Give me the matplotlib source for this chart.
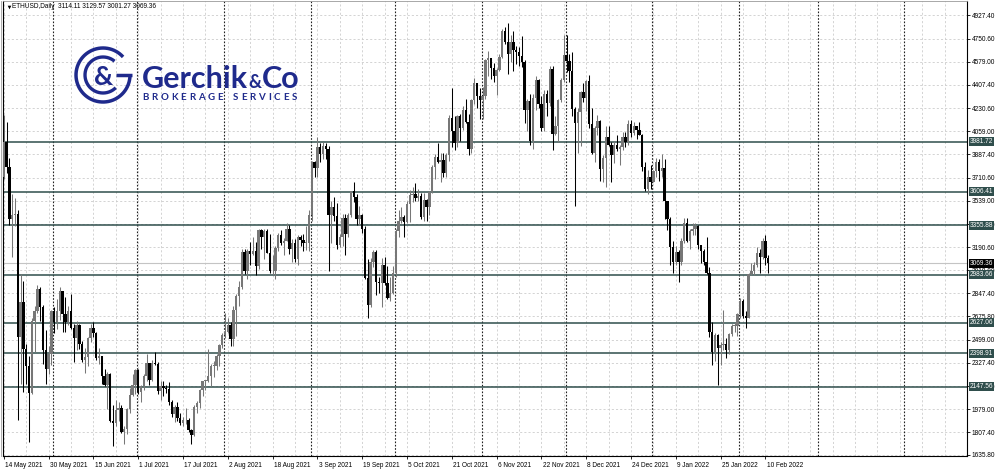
import numpy as np
import pandas as pd
import matplotlib
matplotlib.use("Agg")
import matplotlib.pyplot as plt
import matplotlib.transforms as mtransforms

# ETHUSD daily candles, 14 May 2021 .. 11 Feb 2022
opens = [
    # May
    3720, 3980, 3790, 3400, 3430, 3440, 2520, 2780, 2430, 2300, 2100, 2640, 2710, 2880, 2740, 2420, 2280, 2390,
    # Jun
    2710, 2630, 2710, 2860, 2690, 2630, 2710, 2590, 2515, 2610, 2470, 2350, 2370, 2510, 2590, 2550, 2365, 2375,
    2225, 2160, 2245, 1890, 1875, 1970, 1990, 1810, 1830, 1980, 2085, 2160,
    # Jul
    2275, 2110, 2150, 2225, 2325, 2200, 2325, 2320, 2115, 2150, 2140, 2130, 2030, 1940, 1995, 1915, 1875, 1895,
    1895, 1820, 1785, 1995, 2025, 2125, 2190, 2190, 2225, 2300, 2300, 2380, 2460,
    # Aug
    2535, 2555, 2610, 2505, 2720, 2825, 2890, 3155, 3010, 3165, 3140, 3165, 3050, 3320, 3265, 3310, 3150, 3010,
    3015, 3185, 3285, 3225, 3240, 3325, 3175, 3225, 3100, 3270, 3245, 3225, 3225,
    # Sep
    3435, 3830, 3785, 3940, 3890, 3950, 3925, 3430, 3495, 3425, 3210, 3265, 3410, 3290, 3430, 3610, 3570, 3400,
    3435, 3330, 2960, 2760, 3080, 3155, 2930, 2925, 3060, 2925, 2810, 2850,
    # Oct
    3000, 3310, 3390, 3420, 3380, 3515, 3580, 3590, 3560, 3575, 3415, 3545, 3495, 3605, 3790, 3870, 3830, 3845,
    3745, 3880, 4155, 4060, 3970, 4170, 4085, 4220, 4130, 3930, 4290, 4420, 4325,
    # Nov
    4290, 4325, 4590, 4605, 4530, 4475, 4520, 4615, 4810, 4730, 4635, 4725, 4665, 4650, 4625, 4580, 4215, 4285,
    3990, 4305, 4440, 4265, 4085, 4340, 4270, 4525, 4040, 4095, 4295, 4445,
    # Dec
    4630, 4585, 4510, 4225, 4120, 4200, 4355, 4310, 4435, 4110, 3895, 4080, 4135, 3780, 3860, 4020, 3960, 3880,
    3960, 3925, 3940, 4020, 3980, 4110, 4045, 4100, 4070, 4035, 3795, 3630, 3715,
    # Jan
    3680, 3765, 3830, 3765, 3785, 3535, 3400, 3195, 3080, 3155, 3080, 3240, 3375, 3240, 3310, 3330, 3350, 3210,
    3160, 3080, 2995, 2560, 2405, 2535, 2440, 2460, 2465, 2425, 2545, 2600, 2600,
    # Feb
    2690, 2790, 2680, 2660, 2990, 3015, 3060, 3145, 3120, 3240, 3114.11,
]
highs = [
    4180, 4130, 3860, 3590, 3560, 3470, 2990, 2940, 2470, 2380, 2660, 2750, 2910, 2890, 2760, 2570, 2450, 2720,
    2740, 2800, 2890, 2860, 2820, 2750, 2840, 2620, 2640, 2620, 2490, 2440, 2520, 2620, 2630, 2560, 2440, 2380,
    2280, 2260, 2250, 2010, 2050, 2030, 2010, 1850, 1990, 2140, 2240, 2280,
    2280, 2160, 2240, 2390, 2325, 2350, 2410, 2330, 2190, 2190, 2160, 2180, 2045, 2010, 2030, 1950, 1920, 1990,
    1910, 1830, 2010, 2040, 2130, 2190, 2200, 2430, 2320, 2340, 2390, 2470, 2550,
    2700, 2665, 2630, 2750, 2840, 2940, 3180, 3180, 3180, 3230, 3270, 3230, 3330, 3330, 3330, 3330, 3290, 3130,
    3200, 3300, 3320, 3260, 3370, 3360, 3250, 3250, 3280, 3280, 3290, 3350, 3470,
    3840, 3840, 4020, 3970, 3980, 3970, 3950, 3540, 3570, 3520, 3290, 3440, 3440, 3450, 3610, 3680, 3590, 3500,
    3440, 3350, 3100, 3110, 3170, 3170, 2970, 3110, 3120, 3050, 2970, 3050,
    3330, 3470, 3490, 3430, 3540, 3620, 3640, 3670, 3630, 3600, 3600, 3550, 3610, 3810, 3890, 3970, 3900, 3900,
    3900, 4180, 4380, 4170, 4180, 4190, 4250, 4300, 4190, 4300, 4460, 4420, 4380,
    4390, 4600, 4660, 4610, 4570, 4530, 4640, 4825, 4840, 4870, 4780, 4810, 4700, 4690, 4770, 4590, 4300, 4340,
    4340, 4470, 4450, 4320, 4370, 4370, 4550, 4550, 4170, 4300, 4460, 4780,
    4780, 4640, 4650, 4240, 4230, 4360, 4420, 4440, 4480, 4230, 4100, 4180, 4140, 3880, 4100, 4100, 3980, 3990,
    4030, 3960, 4050, 4050, 4140, 4140, 4130, 4100, 4130, 4040, 3830, 3770, 3810,
    3770, 3860, 3850, 3890, 3850, 3540, 3420, 3240, 3200, 3170, 3260, 3410, 3410, 3330, 3370, 3370, 3360, 3210,
    3180, 3270, 3040, 2630, 2550, 2540, 2480, 2720, 2510, 2550, 2620, 2630, 2700,
    2810, 2800, 2710, 3000, 3070, 3080, 3190, 3180, 3260, 3280, 3129.57,
]
lows = [
    3700, 3750, 3360, 3120, 3350, 1900, 2170, 2110, 2170, 1730, 2090, 2410, 2700, 2640, 2320, 2170, 2240, 2310,
    2550, 2580, 2650, 2560, 2560, 2610, 2580, 2330, 2420, 2430, 2330, 2250, 2300, 2480, 2520, 2350, 2320, 2170,
    2150, 1980, 1880, 1700, 1850, 1890, 1800, 1720, 1790, 1950, 2080, 2090,
    2090, 2030, 2120, 2190, 2160, 2190, 2310, 2090, 2050, 2080, 2100, 2010, 1920, 1880, 1890, 1860, 1850, 1870,
    1810, 1720, 1780, 1950, 1990, 2080, 2120, 2180, 2150, 2220, 2270, 2300, 2440,
    2510, 2550, 2450, 2455, 2530, 2750, 2880, 2990, 2950, 3060, 3130, 2980, 3030, 3180, 3100, 3150, 3000, 2980,
    2950, 3160, 3210, 3130, 3240, 3140, 3080, 3080, 3060, 3200, 3160, 3170, 3160,
    3390, 3720, 3720, 3830, 3850, 3850, 3010, 3220, 3390, 3180, 3190, 3200, 3130, 3270, 3420, 3530, 3360, 3360,
    3300, 2950, 2660, 2740, 3040, 2830, 2850, 2740, 2910, 2800, 2790, 2840,
    2970, 3270, 3370, 3270, 3370, 3380, 3530, 3540, 3540, 3400, 3390, 3390, 3430, 3600, 3700, 3820, 3680, 3720,
    3720, 3840, 3940, 3920, 3940, 3990, 4070, 4120, 3880, 3900, 4260, 4230, 4150,
    4150, 4300, 4470, 4450, 4430, 4330, 4510, 4610, 4710, 4490, 4580, 4510, 4560, 4550, 4540, 4120, 4060, 3960,
    3930, 4220, 4230, 4060, 4060, 4170, 4250, 3920, 4030, 3980, 4280, 4430,
    4500, 4430, 4170, 3500, 3900, 3950, 4280, 4210, 4080, 3890, 3830, 4030, 3690, 3680, 3640, 3950, 3680, 3820,
    3910, 3810, 3920, 3940, 3960, 4020, 4030, 4000, 4030, 3760, 3610, 3590, 3630,
    3680, 3720, 3690, 3720, 3400, 3320, 3060, 3000, 3060, 2930, 3060, 3220, 3230, 3180, 3280, 3280, 3180, 3070,
    3060, 2990, 2520, 2310, 2340, 2160, 2310, 2420, 2360, 2390, 2530, 2560, 2530,
    2660, 2660, 2590, 2660, 2980, 2980, 3040, 3000, 3100, 3060, 3001.27,
]
closes = [
    3980, 3790, 3400, 3430, 3440, 2520, 2780, 2430, 2300, 2100, 2640, 2710, 2880, 2740, 2420, 2280, 2390, 2710,
    2630, 2710, 2860, 2690, 2630, 2710, 2590, 2515, 2610, 2470, 2350, 2370, 2510, 2590, 2550, 2365, 2375, 2225,
    2160, 2245, 1890, 1875, 1970, 1990, 1810, 1830, 1980, 2085, 2160, 2275,
    2110, 2150, 2225, 2325, 2200, 2325, 2320, 2115, 2150, 2140, 2130, 2030, 1940, 1995, 1915, 1875, 1895, 1895,
    1820, 1785, 1995, 2025, 2125, 2190, 2190, 2225, 2300, 2300, 2380, 2460, 2535,
    2555, 2610, 2505, 2720, 2825, 2890, 3155, 3010, 3165, 3140, 3165, 3050, 3320, 3265, 3310, 3150, 3010, 3015,
    3185, 3285, 3225, 3240, 3325, 3175, 3225, 3100, 3270, 3245, 3225, 3225, 3435,
    3830, 3785, 3940, 3890, 3950, 3925, 3430, 3495, 3425, 3210, 3265, 3410, 3290, 3430, 3610, 3570, 3400, 3435,
    3330, 2960, 2760, 3080, 3155, 2930, 2925, 3060, 2925, 2810, 2850, 3000,
    3310, 3390, 3420, 3380, 3515, 3580, 3590, 3560, 3575, 3415, 3545, 3495, 3605, 3790, 3870, 3830, 3845, 3745,
    3880, 4155, 4060, 3970, 4170, 4085, 4220, 4130, 3930, 4290, 4420, 4325, 4290,
    4325, 4590, 4605, 4530, 4475, 4520, 4615, 4810, 4730, 4635, 4725, 4665, 4650, 4625, 4580, 4215, 4285, 3990,
    4305, 4440, 4265, 4085, 4340, 4270, 4525, 4040, 4095, 4295, 4445, 4630,
    4585, 4510, 4225, 4120, 4200, 4355, 4310, 4435, 4110, 3895, 4080, 4135, 3780, 3860, 4020, 3960, 3880, 3960,
    3925, 3940, 4020, 3980, 4110, 4045, 4100, 4070, 4035, 3795, 3630, 3715, 3680,
    3765, 3830, 3765, 3785, 3535, 3400, 3195, 3080, 3155, 3080, 3240, 3375, 3240, 3310, 3330, 3350, 3210, 3160,
    3080, 2995, 2560, 2405, 2535, 2440, 2460, 2465, 2425, 2545, 2600, 2600, 2690,
    2790, 2680, 2660, 2990, 3015, 3060, 3145, 3120, 3240, 3114.11, 3069.36,
]

first_day = "2021-05-14"
level_prices = [3981.72, 3606.41, 3355.88, 2983.66, 2627.06, 2398.91, 2147.56]
last_price = 3069.36
price_ticks = [4927.40, 4750.60, 4579.00, 4407.40, 4230.60, 4059.00, 3887.40, 3710.60, 3539.00, 3362.20,
               3190.60, 3018.80, 2847.40, 2675.80, 2499.00, 2327.40, 2150.60, 1979.00, 1807.40, 1635.80]
title_text = "ETHUSD,Daily  3114.11 3129.57 3001.27 3069.36"

BULL = "#777777"
BEAR = "#000000"
LEVEL = "#2f4e4c"
NAVY = "#1f2a8c"
FS = 4.7

plt.rcParams["font.family"] = ["Liberation Sans", "DejaVu Sans"]

W, H = 1000, 471
fig = plt.figure(figsize=(W / 100, H / 100), dpi=100)
fig.patch.set_facecolor("white")

# chart frame: x 3..967 px, y 1..455.5 px
top_px, bot_px = 1.0, 455.5
ax = fig.add_axes([3 / W, (H - bot_px) / H, 964 / W, (bot_px - top_px) / H])

o = np.array(opens, dtype=float)
h = np.array(highs, dtype=float)
l = np.array(lows, dtype=float)
c = np.array(closes, dtype=float)
n = len(c)
idx = np.arange(n)
dates = pd.date_range(first_day, periods=345, freq="D")

px_per_price = 7.486
y0 = 1632.0
ax.set_ylim(y0, y0 + (bot_px - top_px) * px_per_price)
ax.set_xlim(-0.29, 344.0)

# grid
for v in price_ticks:
    ax.axhline(v, color="#cccccc", lw=0.6, ls=(0, (2.5, 2.5)), zorder=0)
for i in range(0, 345, 8):
    ax.axvline(i, color="#cccccc", lw=0.6, ls=(0, (2.5, 2.5)), zorder=0)
month_starts = np.where(dates.day == 1)[0]
for i in month_starts:
    ax.axvline(i - 0.35, color="#202020", lw=0.8, ls=(0, (1.5, 1.5)), zorder=0.5)

# levels
for lv in level_prices:
    ax.axhline(lv, color=LEVEL, lw=1.1, zorder=1)
ax.axhline(last_price, color="#c4c4c4", lw=0.8, zorder=1)

# candles
up = c >= o
ax.vlines(idx[up], l[up], h[up], color=BULL, lw=0.75, zorder=2)
ax.vlines(idx[~up], l[~up], h[~up], color=BEAR, lw=0.75, zorder=2)
body_lo = np.minimum(o, c)
body_h = np.maximum(np.abs(c - o), 6)
ax.bar(idx[up], body_h[up], bottom=body_lo[up], width=0.8, color=BULL, linewidth=0, zorder=3)
ax.bar(idx[~up], body_h[~up], bottom=body_lo[~up], width=0.8, color=BEAR, linewidth=0, zorder=3)

# axes styling
for side in ["left", "bottom", "right"]:
    ax.spines[side].set_color("#000000")
    ax.spines[side].set_linewidth(0.8)
ax.spines["top"].set_color("#9a9a9a")
ax.spines["top"].set_linewidth(0.6)

ax.yaxis.tick_right()
ax.set_yticks(price_ticks)
ax.set_yticklabels([f"{v:.2f}" for v in price_ticks])
ax.tick_params(axis="y", length=2.2, width=0.6, pad=1, labelsize=FS, colors="black")

date_ticks = list(range(0, n, 16))
ax.set_xticks(date_ticks)
ax.set_xticklabels([f"{dates[i].day} {dates[i]:%b %Y}" for i in date_ticks])
ax.tick_params(axis="x", length=2.5, width=0.6, pad=2.0, labelsize=FS, colors="black")
shift = mtransforms.ScaledTranslation(0.012, 0, fig.dpi_scale_trans)
for lbl in ax.get_xticklabels():
    lbl.set_horizontalalignment("left")
    lbl.set_transform(lbl.get_transform() + shift)

# price boxes on the right scale
btr = mtransforms.blended_transform_factory(ax.transAxes, ax.transData)
lx = (969.5 - 3) / 964
for lv in level_prices:
    ax.text(lx, lv, f"{lv:.2f}", transform=btr, ha="left", va="center", fontsize=FS, color="white",
            clip_on=False, zorder=10,
            bbox=dict(boxstyle="square,pad=0.15", fc=LEVEL, ec="none"))
ax.text(lx, last_price, f"{last_price:.2f}", transform=btr, ha="left", va="center", fontsize=FS,
        color="white", clip_on=False, zorder=11,
        bbox=dict(boxstyle="square,pad=0.15", fc="black", ec="none"))

# overlay in pixel coordinates for the title and logo
ov = fig.add_axes([0, 0, 1, 1])
ov.set_xlim(0, W)
ov.set_ylim(H, 0)
ov.axis("off")
ov.patch.set_alpha(0)

ov.plot([0.6, 0.6], [1, bot_px], color="#a0a0a0", lw=0.6)
ov.plot(8.5, 6.6, marker="v", ms=2.6, color="black", mew=0)
ov.text(12, 6.8, title_text, fontsize=FS, ha="left", va="center", color="black")

# logo emblem
cx, cy = 103, 75
t = np.radians(np.linspace(42, 360, 200))
ov.plot(cx + 27 * np.cos(t), cy - 27 * np.sin(t), color=NAVY, lw=2.5, solid_capstyle="butt")
ov.plot([cx + 13, cx + 28.5], [cy, cy], color=NAVY, lw=2.5, solid_capstyle="butt")
t2 = np.radians(np.linspace(50, 315, 160))
ov.plot(cx + 18 * np.cos(t2), cy - 18 * np.sin(t2), color=NAVY, lw=2.4, solid_capstyle="butt")
ov.text(cx + 1, cy + 2, "&", fontsize=19, fontweight="bold", color=NAVY, ha="center", va="center",
        family="Lato")

# logo text
renderer = fig.canvas.get_renderer()
g = ov.text(141.5, 87.5, "Gerchik", fontsize=22, fontweight="bold", color=NAVY, family="Lato",
            ha="left", va="baseline")
bb = g.get_window_extent(renderer)
amp = ov.text(bb.x1 + 1.0, 87.5, "&", fontsize=13, fontweight="bold", color=NAVY, family="Lato",
              ha="left", va="baseline")
bb2 = amp.get_window_extent(renderer)
ov.text(bb2.x1 + 0.5, 87.5, "Co", fontsize=22, fontweight="bold", color=NAVY, family="Lato",
        ha="left", va="baseline")

sub = "BROKERAGE SERVICES"
widths = []
for ch in sub:
    tt = ov.text(0, 0, ch if ch != " " else "-", fontsize=7, fontweight="bold", family="Lato")
    widths.append(tt.get_window_extent(renderer).width)
    tt.remove()
track = (297 - 142 - sum(widths)) / (len(sub) - 1)
xpos = 142.0
for ch, wd in zip(sub, widths):
    if ch != " ":
        ov.text(xpos, 100.5, ch, fontsize=7, fontweight="bold", family="Lato", color=NAVY,
                ha="left", va="baseline")
    xpos += wd + track

fig.savefig("out.png", dpi=100, facecolor="white")
